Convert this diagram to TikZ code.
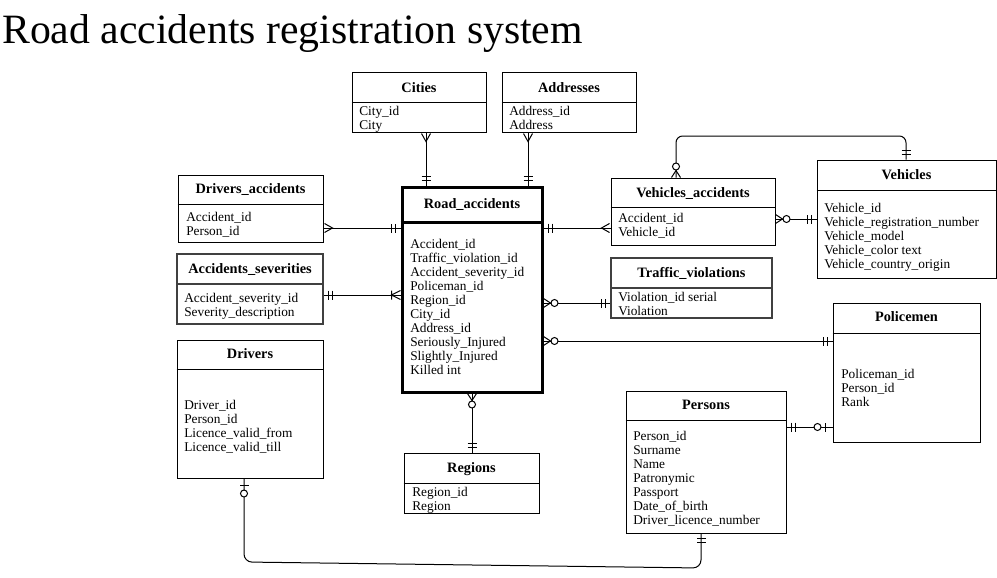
\documentclass[tikz,border=0pt]{standalone}
\usepackage{fontspec}
\setmainfont{Liberation Serif}
\usetikzlibrary{fit}
\begin{document}
\begin{tikzpicture}[x=0.75pt,y=-0.75pt,
  ent/.style={draw, inner sep=0pt, line width=0.75pt},
  entg/.style={draw=black!75, inner sep=0pt, line width=1.1pt},
  entb/.style={draw, inner sep=0pt, line width=2.25pt},
  hdr/.style={font=\bfseries\fontsize{10.75}{12}\selectfont, inner sep=0pt, anchor=base},
  fld/.style={font=\fontsize{10}{10.5}\selectfont, align=left, inner sep=0pt, anchor=north west, yshift=-0.75pt},
  ttl/.style={font=\fontsize{31.3}{34}\selectfont, inner sep=0pt, anchor=base west},
  conn/.style={line width=0.75pt},
  pics/ermany/.style={code={\draw[line width=0.75pt] (1,-4.5) -- (9,0) -- (1,4.5);}},
  pics/erone/.style={code={\draw[line width=0.75pt] (5,-4.5) -- (5,4.5) (9,-4.5) -- (9,4.5);}},
  pics/erzeromany/.style={code={\draw[line width=0.75pt] (0,-4.5) -- (7,0) -- (0,4.5);
     \draw[line width=0.75pt, fill=white] (11,0) circle[radius=3.5];}},
  pics/eronemany/.style={code={\draw[line width=0.75pt] (0,-4.5) -- (9,0) -- (0,4.5) (9,-4.5) -- (9,4.5);}},
  pics/erzeroone/.style={code={\draw[line width=0.75pt] (7,-4.5) -- (7,4.5);
     \draw[line width=0.75pt, fill=white] (15,0) circle[radius=3.5];}}
]
\useasboundingbox (0,0) rectangle (997,578);

\node[ttl] (title) at (2,43.5) {Road accidents registration system};

% Cities
\node[ent, fit={(352,72)(486,132)}] (cities) {};
\draw[line width=0.75pt] (cities.west |- 0,102) -- (cities.east |- 0,102);
\node[hdr] (citiesH) at (419,92.5) {Cities};
\node[fld] (citiesF) at (359,104.5) {City\_id\\City};

% Addresses
\node[ent, fit={(502,72)(636,132)}] (addresses) {};
\draw[line width=0.75pt] (addresses.west |- 0,102) -- (addresses.east |- 0,102);
\node[hdr] (addressesH) at (569,92.5) {Addresses};
\node[fld] (addressesF) at (509,104.5) {Address\_id\\Address};

% Drivers_accidents
\node[ent, fit={(178,175)(323,242)}] (drvacc) {};
\draw[line width=0.75pt] (drvacc.west |- 0,204) -- (drvacc.east |- 0,204);
\node[hdr] (drvaccH) at (250.5,193.5) {Drivers\_accidents};
\node[fld] (drvaccF) at (186,210.5) {Accident\_id\\Person\_id};

% Accidents_severities
\node[entg, fit={(177,254)(323,324)}] (accsev) {};
\draw[line width=1.1pt, black!75] (accsev.west |- 0,284) -- (accsev.east |- 0,284);
\node[hdr] (accsevH) at (250,273.5) {Accidents\_severities};
\node[fld] (accsevF) at (184,291.5) {Accident\_severity\_id\\Severity\_description};

% Road_accidents
\node[entb, fit={(402,187)(542,392)}] (road) {};
\draw[line width=2.25pt] (road.west |- 0,222) -- (road.east |- 0,222);
\node[hdr] (roadH) at (472,208.5) {Road\_accidents};
\node[fld] (roadF) at (410,237.5) {Accident\_id\\Traffic\_violation\_id\\Accident\_severity\_id\\Policeman\_id\\Region\_id\\City\_id\\Address\_id\\Seriously\_Injured\\Slightly\_Injured\\Killed int};

% Vehicles_accidents
\node[ent, fit={(611,178)(775,245)}] (vehacc) {};
\draw[line width=0.75pt] (vehacc.west |- 0,207) -- (vehacc.east |- 0,207);
\node[hdr] (vehaccH) at (693,197.5) {Vehicles\_accidents};
\node[fld] (vehaccF) at (618,211.5) {Accident\_id\\Vehicle\_id};

% Vehicles
\node[ent, fit={(817,160)(996,278)}] (vehicles) {};
\draw[line width=0.75pt] (vehicles.west |- 0,190) -- (vehicles.east |- 0,190);
\node[hdr] (vehiclesH) at (906.5,179.5) {Vehicles};
\node[fld] (vehiclesF) at (824,201.5) {Vehicle\_id\\Vehicle\_registration\_number\\Vehicle\_model\\Vehicle\_color text\\Vehicle\_country\_origin};

% Traffic_violations
\node[entg, fit={(611,258)(772,318)}] (traffic) {};
\draw[line width=1.1pt, black!75] (traffic.west |- 0,288) -- (traffic.east |- 0,288);
\node[hdr] (trafficH) at (691.5,277.5) {Traffic\_violations};
\node[fld] (trafficF) at (618,290.5) {Violation\_id serial\\Violation};

% Policemen
\node[ent, fit={(833,303)(980,442)}] (police) {};
\draw[line width=0.75pt] (police.west |- 0,333) -- (police.east |- 0,333);
\node[hdr] (policeH) at (906.5,321.5) {Policemen};
\node[fld] (policeF) at (841,367.5) {Policeman\_id\\Person\_id\\Rank};

% Drivers
\node[ent, fit={(177,340)(323,478)}] (drivers) {};
\draw[line width=0.75pt] (drivers.west |- 0,369) -- (drivers.east |- 0,369);
\node[hdr] (driversH) at (250,358.5) {Drivers};
\node[fld] (driversF) at (184,398.5) {Driver\_id\\Person\_id\\Licence\_valid\_from\\Licence\_valid\_till};

% Regions
\node[ent, fit={(404,453)(539,513)}] (regions) {};
\draw[line width=0.75pt] (regions.west |- 0,483) -- (regions.east |- 0,483);
\node[hdr] (regionsH) at (471.5,472.5) {Regions};
\node[fld] (regionsF) at (412,485.5) {Region\_id\\Region};

% Persons
\node[ent, fit={(626,391)(786,533)}] (persons) {};
\draw[line width=0.75pt] (persons.west |- 0,420) -- (persons.east |- 0,420);
\node[hdr] (personsH) at (706,409.5) {Persons};
\node[fld] (personsF) at (633,429.5) {Person\_id\\Surname\\Name\\Patronymic\\Passport\\Date\_of\_birth\\Driver\_licence\_number};

% ---------- connectors ----------
% Cities - Road
\draw[conn] (cities.south -| 426,0) -- (road.north -| 426,0);
\pic[rotate=-90] at (cities.south -| 426,0) {ermany};
\pic[rotate=90] at (road.north -| 426,0) {erone};
% Addresses - Road
\draw[conn] (addresses.south -| 528,0) -- (road.north -| 528,0);
\pic[rotate=-90] at (addresses.south -| 528,0) {ermany};
\pic[rotate=90] at (road.north -| 528,0) {erone};
% Drivers_accidents - Road
\draw[conn] (drvacc.east |- 0,228) -- (road.west |- 0,228);
\pic at (drvacc.east |- 0,228) {ermany};
\pic[rotate=180] at (road.west |- 0,228) {erone};
% Accidents_severities - Road
\draw[conn] (accsev.east |- 0,295) -- (road.west |- 0,295);
\pic at (accsev.east |- 0,295) {erone};
\pic[rotate=180] at (road.west |- 0,295) {eronemany};
% Road - Vehicles_accidents
\draw[conn] (road.east |- 0,228) -- (vehacc.west |- 0,228);
\pic at (road.east |- 0,228) {erone};
\pic[rotate=180] at (vehacc.west |- 0,228) {ermany};
% Vehicles_accidents - Vehicles
\draw[conn] (vehacc.east |- 0,219) -- (vehicles.west |- 0,219);
\pic at (vehacc.east |- 0,219) {erzeromany};
\pic[rotate=180] at (vehicles.west |- 0,219) {erone};
% Vehicles_accidents top - Vehicles top
\draw[conn, rounded corners=5pt] (vehacc.north -| 676,0) -- (676,136) -- (906,136) -- (vehicles.north -| 906,0);
\pic[rotate=90] at (vehacc.north -| 676,0) {erzeromany};
\pic[rotate=90] at (vehicles.north -| 906,0) {erone};
% Road - Traffic_violations
\draw[conn] (road.east |- 0,303) -- (traffic.west |- 0,303);
\pic at (road.east |- 0,303) {erzeromany};
\pic[rotate=180] at (traffic.west |- 0,303) {erone};
% Road - Policemen
\draw[conn] (road.east |- 0,341) -- (police.west |- 0,341);
\pic at (road.east |- 0,341) {erzeromany};
\pic[rotate=180] at (police.west |- 0,341) {erone};
% Road - Regions
\draw[conn] (road.south -| 472,0) -- (regions.north -| 472,0);
\pic[rotate=-90] at (road.south -| 472,0) {erzeromany};
\pic[rotate=90] at (regions.north -| 472,0) {erone};
% Persons - Policemen
\draw[conn] (persons.east |- 0,427) -- (police.west |- 0,427);
\pic at (persons.east |- 0,427) {erone};
\pic[rotate=180] at (police.west |- 0,427) {erzeroone};
% Drivers - Persons
\draw[conn, rounded corners=6pt] (drivers.south -| 244,0) -- (244,562) -- (701,568) -- (persons.south -| 701,0);
\pic[rotate=-90] at (drivers.south -| 244,0) {erzeroone};
\pic[rotate=-90] at (persons.south -| 701,0) {erone};
\end{tikzpicture}
\end{document}
